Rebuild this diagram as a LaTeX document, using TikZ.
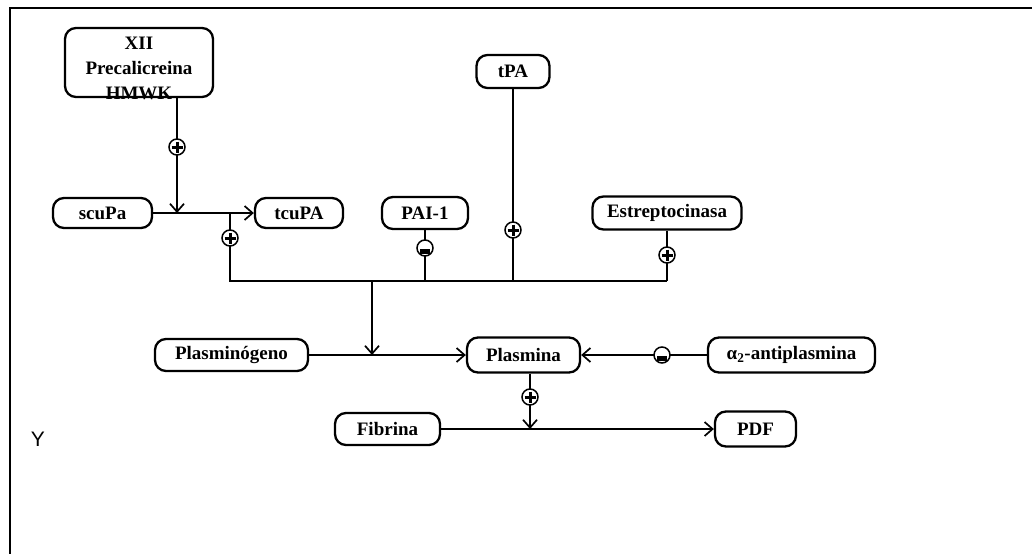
\documentclass[tikz,border=0pt]{standalone}
\usepackage{fontspec}
\setmainfont{Liberation Serif}
\newfontfamily\ysans{Liberation Sans}
\usetikzlibrary{arrows.meta}
\tikzset{
  box/.style={draw, line width=2.3pt, rounded corners=11pt, inner sep=0pt,
    font=\fontsize{19}{25}\selectfont\bfseries},
  ln/.style={line width=1.9pt},
  arr/.style={ln, -{Straight Barb[length=8pt,width=14pt,line width=1.7pt]}},
  plus/.pic={\draw[fill=white, line width=1.5pt] (0,0) circle (8);
             \draw[line width=3pt] (-5.5,0)--(5.5,0) (0,-5.5)--(0,5.5);},
  minus/.pic={\draw[fill=white, line width=1.5pt] (0,0) circle (8);
              \fill (-5,0.5) rectangle (5,6);}
}
\begin{document}
\begin{tikzpicture}[x=1pt,y=-1pt]
\useasboundingbox (0,0) rectangle (1032,554);
% frame
\draw[line width=2pt] (1032,8) -- (10,8) -- (10,554);
% nodes
\node[box, minimum width=148pt, minimum height=69pt] (xii) at (139,62.5) {};
\node[font=\fontsize{19}{25}\selectfont\bfseries, align=center, inner sep=0pt] (xiit) at (139,68) {XII\\Precalicreina\\HMWK};
\node[box, minimum width=99pt, minimum height=30pt] (scupa) at (102.5,213) {scuPa};
\node[box, minimum width=88pt, minimum height=30pt] (tcupa) at (299,213) {tcuPA};
\node[box, minimum width=86pt, minimum height=32pt] (pai) at (425,213) {PAI-1};
\node[box, minimum width=73pt, minimum height=33pt] (tpa) at (513,71.5) {tPA};
\node[box, minimum width=149pt, minimum height=33pt] (estr) at (667,213) {Estreptocinasa};
\node[box, minimum width=153pt, minimum height=32pt] (plg) at (231.5,355) {Plasminógeno};
\node[box, minimum width=113pt, minimum height=35pt] (plm) at (523.5,355) {Plasmina};
\node[box, minimum width=167pt, minimum height=35pt] (anti) at (791.5,355) {α\textsubscript{2}-antiplasmina};
\node[box, minimum width=105pt, minimum height=32pt] (fib) at (387.5,429) {Fibrina};
\node[box, minimum width=81pt, minimum height=35pt] (pdf) at (755.5,429) {PDF};
\node[font=\fontsize{21}{25}\selectfont\ysans, inner sep=0pt] (ylab) at (38,439) {Y};
% junction coordinates
\coordinate (j1) at (177,213);
\coordinate (j2) at (230,213);
\coordinate (j3) at (230,281);
\coordinate (j4) at (667,281);
\coordinate (j5) at (372,281);
\coordinate (j6) at (530,429);
% connectors
\draw[arr] (xii.south -| j1) -- (j1);
\draw[arr] (scupa) -- (tcupa);
\draw[ln] (j2) -- (j3) -- (j4);
\draw[ln] (estr.south) -- (estr.south |- j4);
\draw[ln] (pai.south) -- (pai.south |- j3);
\draw[ln] (tpa.south) -- (tpa.south |- j3);
\draw[arr] (j5) -- (j5 |- plg);
\draw[arr] (plg) -- (plm);
\draw[arr] (anti) -- (plm);
\draw[arr] (plm.south -| j6) -- (j6);
\draw[arr] (fib) -- (pdf);
% signs
\pic at (177,147) {plus};
\pic at (230,238) {plus};
\pic at (425,248) {minus};
\pic at (513,230) {plus};
\pic at (667,255) {plus};
\pic at (662,355) {minus};
\pic at (530,397) {plus};
\end{tikzpicture}
\end{document}
